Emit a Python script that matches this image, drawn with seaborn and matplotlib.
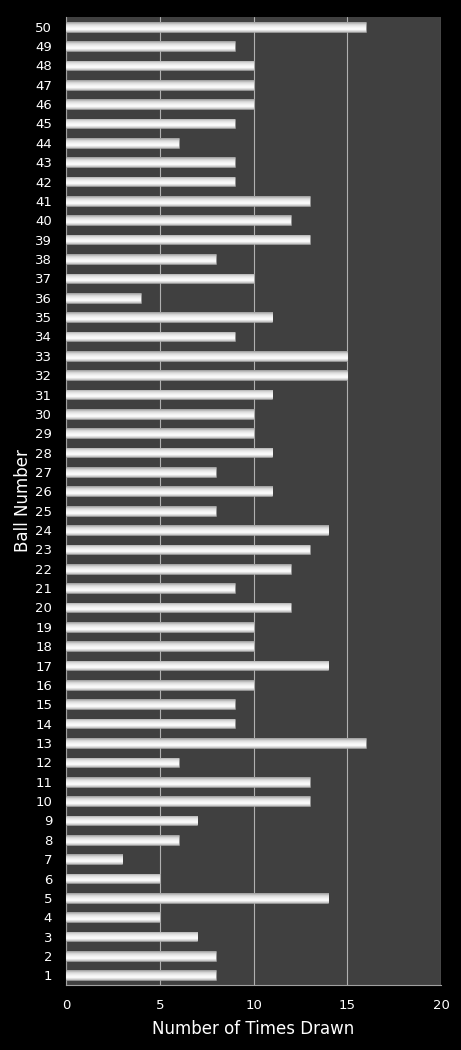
import numpy as np
import pandas as pd
import seaborn as sns
import matplotlib.pyplot as plt
from matplotlib.colors import LinearSegmentedColormap

# ball numbers 1..50 and how often each was drawn
balls = list(range(1, 51))
times_drawn = [8, 8, 7, 5, 14, 5, 3, 6, 7, 13,
               13, 6, 16, 9, 9, 10, 14, 10, 10, 12,
               9, 12, 13, 14, 8, 11, 8, 11, 10, 10,
               11, 15, 15, 9, 11, 4, 10, 8, 13, 12,
               13, 9, 9, 6, 9, 10, 10, 10, 9, 16]
x_ticks = [0, 5, 10, 15, 20]

df = pd.DataFrame({"ball": [str(b) for b in balls], "drawn": times_drawn})
order = [str(b) for b in reversed(balls)]

sns.set_style("dark")
plt.rcParams["font.family"] = ["DejaVu Sans"]

fig = plt.figure(figsize=(4.61, 10.5), dpi=100, facecolor="black")
ax = fig.add_axes([0.1432, 0.0619, 0.8134, 0.9219])
ax.set_facecolor("#404040")

sns.barplot(data=df, x="drawn", y="ball", order=order, color="white",
            width=0.5, ax=ax, edgecolor="none", zorder=3)

# silver gradient on each bar
silver = LinearSegmentedColormap.from_list(
    "silver", ["#bdbdbd", "#ffffff", "#f2f2f2", "#d8d8d8", "#9a9a9a"])
grad = np.linspace(0, 1, 64).reshape(-1, 1)
for p in ax.patches:
    x0, y0 = p.get_x(), p.get_y()
    w, h = p.get_width(), p.get_height()
    im = ax.imshow(grad, cmap=silver, aspect="auto",
                   extent=[x0, x0 + w, y0, y0 + h], zorder=4,
                   interpolation="bilinear", origin="upper")
    im.set_clip_path(p)
    p.set_edgecolor("#8a8a8a")
    p.set_linewidth(0.4)

ax.set_xlim(0, 20)
ax.set_ylim(49.5, -0.5)
ax.set_xticks(x_ticks)
ax.set_xticklabels([str(t) for t in x_ticks])
ax.grid(axis="x", color="#b0b0b0", linewidth=0.8, zorder=1)
ax.grid(axis="y", visible=False)

for side in ["top", "right"]:
    ax.spines[side].set_visible(False)
for side in ["left", "bottom"]:
    ax.spines[side].set_color("#a0a0a0")
    ax.spines[side].set_linewidth(0.8)

ax.tick_params(axis="both", colors="white", labelsize=9.5, length=0)
ax.tick_params(axis="y", pad=10)
ax.tick_params(axis="x", pad=10)
ax.set_xlabel("Number of Times Drawn", color="white", fontsize=12, labelpad=6)
ax.set_ylabel("Ball Number", color="white", fontsize=12, labelpad=2)

fig.savefig("out.png", dpi=100, facecolor="black")
